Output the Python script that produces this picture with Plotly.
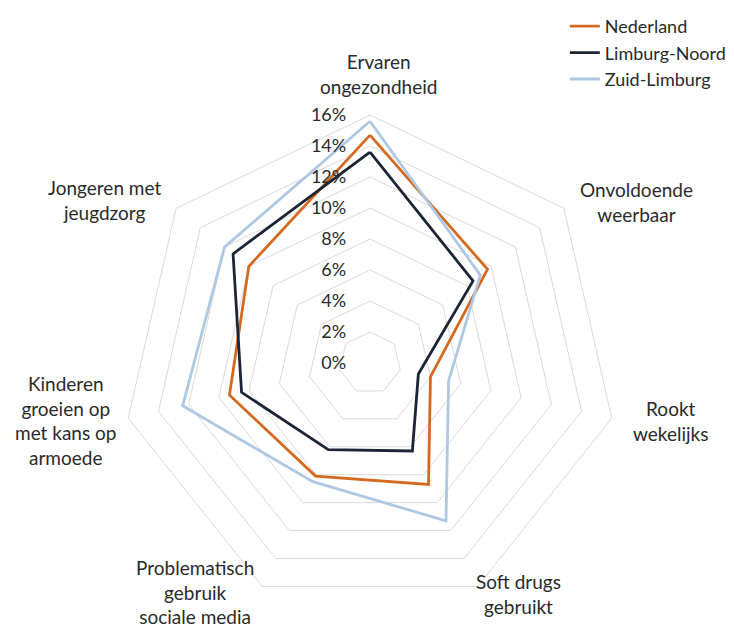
import plotly.graph_objects as go

categories = [
    "Ervaren ongezondheid",
    "Onvoldoende weerbaar",
    "Rookt wekelijks",
    "Soft drugs gebruikt",
    "Problematisch gebruik sociale media",
    "Kinderen groeien op met kans op armoede",
    "Jongeren met jeugdzorg",
]
category_labels = [
    "Ervaren<br>ongezondheid",
    "Onvoldoende<br>weerbaar",
    "Rookt<br>wekelijks",
    "Soft drugs<br>gebruikt",
    "Problematisch<br>gebruik<br>sociale media",
    "Kinderen<br>groeien op<br>met kans op<br>armoede",
    "Jongeren met<br>jeugdzorg",
]

nederland = [14.7, 9.7, 4.0, 8.7, 8.1, 9.3, 10.0]
limburg_noord = [13.6, 8.5, 3.2, 6.3, 6.2, 8.5, 11.3]
zuid_limburg = [15.6, 9.1, 5.2, 11.3, 8.5, 12.4, 12.0]

tick_values = [0, 2, 4, 6, 8, 10, 12, 14, 16]
tick_labels = ["0%", "2%", "4%", "6%", "8%", "10%", "12%", "14%", "16%"]

series = [
    ("Nederland", nederland, "#D5691F"),
    ("Limburg-Noord", limburg_noord, "#1C2536"),
    ("Zuid-Limburg", zuid_limburg, "#AEC8E3"),
]

FONT = "Lato"
TEXT = "#2A2A2A"
W, H = 726, 622  # page body has an 8px margin in the 734x630 window

# label centres in figure pixels (layout only)
label_pos = [(370, 66), (628, 194), (662, 413), (510, 586), (187, 584), (57, 412), (97, 192)]

fig = go.Figure()
for name, vals, color in series:
    fig.add_trace(go.Scatterpolar(
        r=vals + vals[:1],
        theta=categories + categories[:1],
        mode="lines",
        name=name,
        line=dict(color=color, width=2.8),
    ))

annotations = []
for text, (px, py) in zip(category_labels, label_pos):
    annotations.append(dict(
        text=text, x=px / W, y=1 - py / H, xref="paper", yref="paper",
        xanchor="center", yanchor="middle", align="center", showarrow=False,
        font=dict(family=FONT, size=19, color=TEXT),
    ))

cx, cy, R = 362, 355, 248
fig.update_layout(
    width=W, height=H,
    margin=dict(l=0, r=0, t=0, b=0),
    paper_bgcolor="white",
    plot_bgcolor="white",
    font=dict(family=FONT, color=TEXT),
    annotations=annotations,
    polar=dict(
        domain=dict(x=[(cx - R) / W, (cx + R) / W], y=[(H - cy - R) / H, (H - cy + R) / H]),
        gridshape="linear",
        bgcolor="white",
        angularaxis=dict(
            rotation=90,
            direction="clockwise",
            showgrid=False,
            showline=True,
            linecolor="#D9D9D9",
            linewidth=1,
            ticks="",
            showticklabels=False,
        ),
        radialaxis=dict(
            range=[0, 16],
            angle=90,
            tickangle=90,
            side="counterclockwise",
            tickvals=tick_values,
            ticktext=tick_labels,
            showline=False,
            ticks="outside",
            ticklen=17,
            tickcolor="rgba(0,0,0,0)",
            gridcolor="#D9D9D9",
            gridwidth=1,
            tickfont=dict(family=FONT, size=18, color=TEXT),
        ),
    ),
    legend=dict(
        x=0.997, y=1.0, xanchor="right", yanchor="top",
        font=dict(family=FONT, size=18, color=TEXT),
        bgcolor="rgba(0,0,0,0)",
        tracegroupgap=0,
    ),
)

fig.write_html("out.html")
